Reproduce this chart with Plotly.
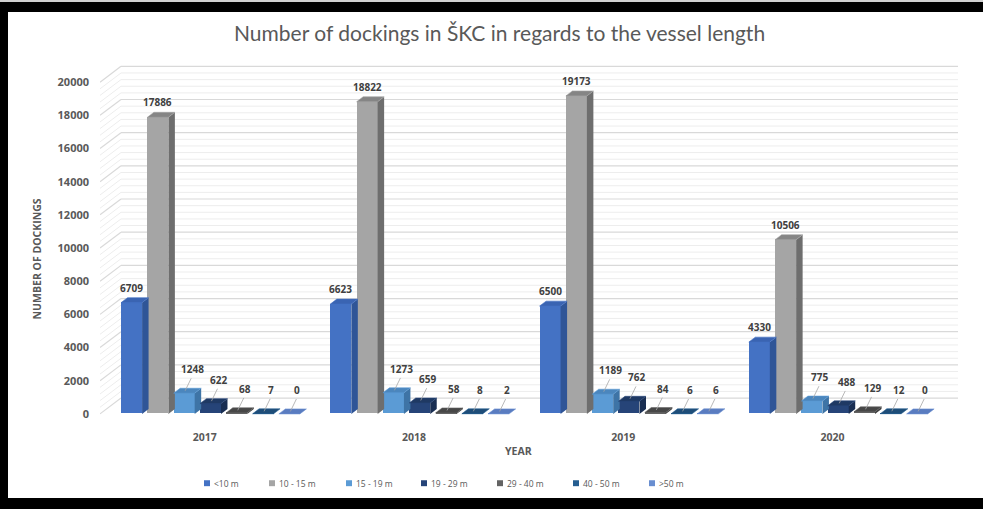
import plotly.graph_objects as go

# ---- data -------------------------------------------------------------
years = ["2017", "2018", "2019", "2020"]
series_names = ["<10 m", "10 - 15 m", "15 - 19 m", "19 - 29 m",
                "29 - 40 m", "40 - 50 m", ">50 m"]
lt_10 = [6709, 6623, 6500, 4330]
m_10_15 = [17886, 18822, 19173, 10506]
m_15_19 = [1248, 1273, 1189, 775]
m_19_29 = [622, 659, 762, 488]
m_29_40 = [68, 58, 84, 129]
m_40_50 = [7, 8, 6, 12]
gt_50 = [0, 2, 6, 0]
y_ticks = list(range(0, 20001, 2000))
minor_step = 400

series_values = [lt_10, m_10_15, m_15_19, m_19_29, m_29_40, m_40_50, gt_50]

# ---- styling ----------------------------------------------------------
W, H = 983, 509
PLOT_L, PLOT_R, PLOT_T, PLOT_B = 100, 960, 60, 420
X0, X_SCALE = -0.5, 209.25          # x data value at left edge, px per group
Y_ZERO_PX, Y_SCALE = 418, 0.01675    # px of value 0, px per unit
PX_X = 1 / X_SCALE
PX_Y = 1 / Y_SCALE

x_range = [X0, X0 + (PLOT_R - PLOT_L) * PX_X]
y_range = [-(PLOT_B - Y_ZERO_PX) * PX_Y, (Y_ZERO_PX - PLOT_T) * PX_Y]

BAR_STEP, BAR_W, BAR_SHIFT = 26.3 * PX_X, 21 * PX_X, 0.028
DEPTH_X, DEPTH_Y = 6.5 * PX_X, 5 * PX_Y          # bar depth
WALL_X, WALL_Y = 21 * PX_X, 16 * PX_Y            # back wall offset

front_cols = ["#4472C4", "#A5A5A5", "#5B9BD5", "#264478", "#636363", "#255E91", "#698ED0"]
side_cols = ["#2F5597", "#6E6E6E", "#3E74A6", "#192E52", "#3F3F3F", "#1A4268", "#4D6FAE"]
top_cols = ["#3A64B2", "#858585", "#4B86BD", "#1F3963", "#474747", "#1E4D78", "#5A7CC0"]

TEXT = "#595959"
LABEL = "#404040"

fig = go.Figure()
annotations = []
shapes = []

# ---- white chart area inside the black frame ----------------------------
shapes.append(dict(type="rect", xref="paper", yref="paper", layer="below",
                   x0=8 / W, x1=1, y0=1 - 503 / H, y1=1 - 12 / H,
                   fillcolor="white", line=dict(width=0)))
shapes.append(dict(type="rect", xref="paper", yref="paper", layer="below",
                   x0=0, x1=1, y0=1 - 2 / H, y1=1,
                   fillcolor="#D0D0D0", line=dict(width=0)))

# ---- back wall gridlines (below the bars) ------------------------------
minor_vals = [v for v in range(0, y_ticks[-1] + 1, minor_step) if v not in y_ticks]
for vals, color, width in ((minor_vals, "#EDEDED", 1), (y_ticks, "#D9D9D9", 1.2)):
    for v in vals:
        shapes.append(dict(type="line", xref="x", yref="y", layer="below",
                           x0=X0, y0=v, x1=X0 + WALL_X, y1=v + WALL_Y,
                           line=dict(color=color, width=width)))
        shapes.append(dict(type="line", xref="x", yref="y", layer="below",
                           x0=X0 + WALL_X, y0=v + WALL_Y, x1=3.5 + WALL_X, y1=v + WALL_Y,
                           line=dict(color=color, width=width)))

# ---- 3D-looking bars --------------------------------------------------
for j, (name, vals) in enumerate(zip(series_names, series_values)):
    centers = [i + (j - 3) * BAR_STEP + BAR_SHIFT for i in range(len(years))]
    fig.add_trace(go.Bar(x=centers, y=vals, width=BAR_W, name=name,
                         marker=dict(color=front_cols[j], line=dict(width=0)),
                         showlegend=False, hoverinfo="skip"))
    sx, sy, tx, ty = [], [], [], []
    for c, v in zip(centers, vals):
        xl, xr = c - BAR_W / 2, c + BAR_W / 2
        sx += [xr, xr + DEPTH_X, xr + DEPTH_X, xr, xr, None]
        sy += [0, DEPTH_Y, v + DEPTH_Y, v, 0, None]
        tx += [xl, xl + DEPTH_X, xr + DEPTH_X, xr, xl, None]
        ty += [v, v + DEPTH_Y, v + DEPTH_Y, v, v, None]
    fig.add_trace(go.Scatter(x=sx, y=sy, fill="toself", fillcolor=side_cols[j], mode="lines",
                             line=dict(width=0, color=side_cols[j]),
                             showlegend=False, hoverinfo="skip"))
    fig.add_trace(go.Scatter(x=tx, y=ty, fill="toself", fillcolor=top_cols[j], mode="lines",
                             line=dict(width=0.6, color=front_cols[j]),
                             showlegend=False, hoverinfo="skip"))

    # value labels (with leader lines on the short bars)
    for c, v in zip(centers, vals):
        small = v < 3000
        annotations.append(dict(
            x=c, y=v + DEPTH_Y, xref="x", yref="y", text=str(v), showarrow=False,
            yanchor="bottom", xanchor="center",
            xshift=8 if small else 0, yshift=10 if small else 1,
            font=dict(family="Open Sans", size=10, color=LABEL, weight="bold")))
        if small:
            shapes.append(dict(type="line", xref="x", yref="y",
                               x0=c + 1 * PX_X, y0=v + DEPTH_Y * 0.5,
                               x1=c + 7 * PX_X, y1=v + DEPTH_Y + 10 * PX_Y,
                               line=dict(color="#A6A6A6", width=0.8)))

# ---- titles -----------------------------------------------------------
annotations.append(dict(x=499 / W, y=1 - 33 / H, xref="paper", yref="paper", showarrow=False,
                        xanchor="center", yanchor="middle",
                        text="Number of dockings in ŠKC in regards to the vessel length",
                        font=dict(family="Lato", size=21, color=TEXT)))
annotations.append(dict(x=37 / W, y=1 - 262 / H, xref="paper", yref="paper", showarrow=False,
                        xanchor="center", yanchor="middle",
                        text="NUMBER OF DOCKINGS", textangle=-90,
                        font=dict(family="Open Sans", size=10.5, color=TEXT, weight="bold")))
annotations.append(dict(x=518 / W, y=1 - 455 / H, xref="paper", yref="paper", showarrow=False,
                        xanchor="center", yanchor="middle",
                        text="YEAR",
                        font=dict(family="Open Sans", size=10.5, color=TEXT, weight="bold")))

# ---- legend -----------------------------------------------------------
legend_x = [204, 269, 346, 421, 497, 573, 649]
legend_y = 488
for name, col, lx in zip(series_names, front_cols, legend_x):
    shapes.append(dict(type="rect", xref="paper", yref="paper",
                       x0=lx / W, x1=(lx + 6) / W,
                       y0=1 - (legend_y + 3) / H, y1=1 - (legend_y - 3) / H,
                       fillcolor=col, line=dict(width=0)))
    annotations.append(dict(x=(lx + 8) / W, y=1 - legend_y / H, xref="paper", yref="paper",
                            showarrow=False, xanchor="left", yanchor="middle",
                            text=name.replace("<", "&lt;").replace(">", "&gt;"),
                            font=dict(family="Open Sans", size=8.5, color=TEXT)))

fig.update_layout(
    width=W, height=H, margin=dict(l=0, r=0, t=0, b=0),
    paper_bgcolor="black", plot_bgcolor="white",
    barmode="overlay", bargap=0,
    annotations=annotations, shapes=shapes,
    xaxis=dict(domain=[PLOT_L / W, PLOT_R / W], range=x_range,
               tickvals=list(range(len(years))), ticktext=years,
               showgrid=False, zeroline=False, showline=False, ticks="",
               ticklabelstandoff=14,
               tickfont=dict(family="Open Sans", size=10.5, color=TEXT, weight="bold")),
    yaxis=dict(domain=[1 - PLOT_B / H, 1 - PLOT_T / H], range=y_range,
               tickvals=y_ticks, ticktext=[str(v) for v in y_ticks],
               showgrid=False, zeroline=False, showline=False, ticks="",
               ticklabelstandoff=10,
               tickfont=dict(family="Open Sans", size=11, color=TEXT, weight="bold")),
)

fig.write_html("out.html")
